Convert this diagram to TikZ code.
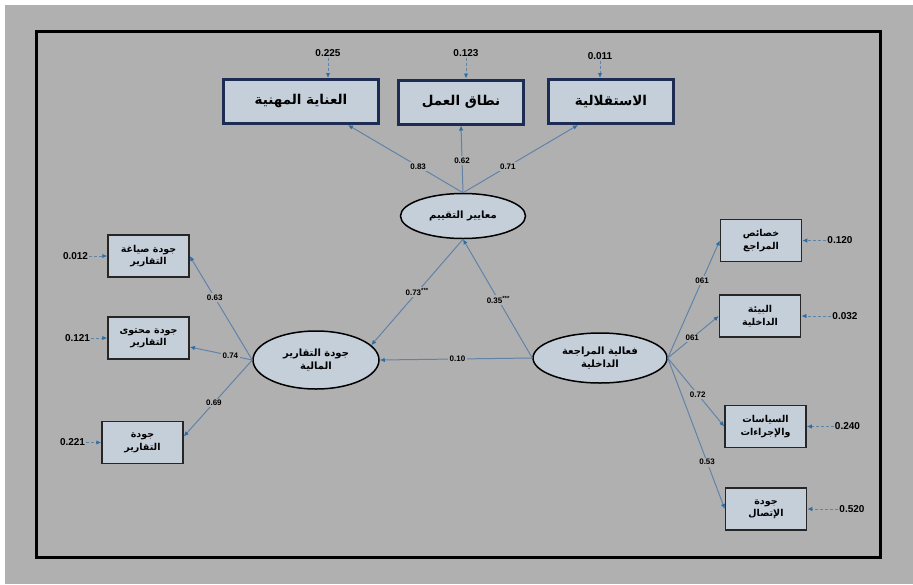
\documentclass[tikz,border=0pt]{standalone}
\usepackage{fontspec}
\setmainfont{Liberation Sans}
\newfontfamily\arabicfont[Script=Arabic]{DejaVu Sans}
\TeXXeTstate=1
\usetikzlibrary{arrows.meta, positioning, shapes.geometric}

\definecolor{bggray}{HTML}{B0B0B0}
\definecolor{boxfill}{HTML}{C5CFDA}
\definecolor{navy}{HTML}{1E2B52}
\definecolor{pathblue}{HTML}{6283A8}
\definecolor{tipblue}{HTML}{2E6CA4}

\newcommand{\ar}[1]{\beginR#1\endR}

\begin{document}
\begin{tikzpicture}[
        x=1pt, y=-1pt,
        factor/.style={rectangle, draw=navy, line width=3pt, fill=boxfill, minimum height=44pt,
            font=\arabicfont\bfseries\fontsize{13.5}{16}\selectfont},
        item/.style={rectangle, draw=black!85, line width=1.5pt, fill=boxfill, minimum width=81pt,
            minimum height=42pt, align=center, inner sep=1pt,
            font=\arabicfont\bfseries\fontsize{9.5}{12.5}\selectfont},
        latent/.style={ellipse, draw=black, line width=1.5pt, fill=boxfill, align=center, inner sep=1pt,
            font=\arabicfont\bfseries\fontsize{10}{13}\selectfont},
        resid/.style={inner sep=1pt, font=\bfseries\fontsize{10}{12}\selectfont},
        coef/.style={fill=bggray, inner sep=1.5pt, font=\bfseries\fontsize{8}{9}\selectfont},
        arrow/.style={draw=pathblue, line width=1pt, -{Latex[length=5pt, width=4.5pt, color=tipblue]}}
    ]

    \tikzset{
    errarrow/.style={arrow, densely dashed}
}

    % background and frame
    \useasboundingbox (0,0) rectangle (913,584);
    \fill[white] (0,0) rectangle (913,584);
    \fill[bggray] (5,5) rectangle (913,584);
    \draw[line width=3pt] (36,31) rectangle (880,557);

    % top factors
    \node[factor, minimum width=155pt] (care) at (301,101.5) {\ar{العناية المهنية}};
    \node[factor, minimum width=125pt] (scope) at (461,102) {\ar{نطاق العمل}};
    \node[factor, minimum width=125pt] (indep) at (611,101.5) {\ar{الاستقلالية}};

    % latent variables
    \node[latent, minimum width=125pt, minimum height=45pt] (eval) at (463,216) {\ar{معايير التقييم}};
    \node[latent, minimum width=126pt, minimum height=58pt] (frq) at (316,360) {\ar{جودة التقارير}\\\ar{المالية}};
    \node[latent, minimum width=134pt, minimum height=50pt] (iae) at (600,358) {\ar{فعالية المراجعة}\\\ar{الداخلية}};

    % indicators left
    \node[item] (L1) at (148.5,256) {\ar{جودة صياغة}\\\ar{التقارير}};
    \node[item] (L2) at (148.5,338) {\ar{جودة محتوى}\\\ar{التقارير}};
    \node[item] (L3) at (142.5,442.5) {\ar{جودة}\\\ar{التقارير}};

    % indicators right
    \node[item] (R1) at (761,240.5) {\ar{خصائص}\\\ar{المراجع}};
    \node[item] (R2) at (760,316) {\ar{البيئة}\\\ar{الداخلية}};
    \node[item] (R3) at (765.5,426.5) {\ar{السياسات}\\\ar{والإجراءات}};
    \node[item] (R4) at (766,509) {\ar{جودة}\\\ar{الإتصال}};

    % residuals
    \node[resid] (e1) at (328,53) {0.225};
    \node[resid] (e2) at (466,53) {0.123};
    \node[resid] (e3) at (600,56) {0.011};
    \node[resid, left=18pt of L1] (e4) {0.012};
    \node[resid, left=16pt of L2] (e5) {0.121};
    \node[resid, left=15pt of L3] (e6) {0.221};
    \node[resid, right=24pt of R1] (e7) {0.120};
    \node[resid, right=30pt of R2] (e8) {0.032};
    \node[resid, right=27pt of R3] (e9) {0.240};
    \node[resid, right=31pt of R4] (e10) {0.520};

    \draw[errarrow] (e1) -- (e1 |- care.north);
    \draw[errarrow] (e2) -- (e2 |- scope.north);
    \draw[errarrow] (e3) -- (e3 |- indep.north);
    \draw[errarrow] (e4) -- (L1);
    \draw[errarrow] (e5) -- (L2);
    \draw[errarrow] (e6) -- (L3);
    \draw[errarrow] (e7) -- (R1);
    \draw[errarrow] (e8) -- (R2);
    \draw[errarrow] (e9) -- (R3);
    \draw[errarrow] (e10) -- (R4);

    % loadings
    \draw[arrow] (eval.north) -- node[coef, pos=0.39] {0.83} ([xshift=47pt]care.south);
    \draw[arrow] (eval.north) -- node[coef, pos=0.48] {0.62} (scope.south);
    \draw[arrow] (eval.north) -- node[coef, pos=0.39] {0.71} ([xshift=-33pt]indep.south);

    \draw[arrow] (frq.west) -- node[coef, pos=0.6] {0.63} (L1.east);
    \draw[arrow] (frq.west) -- node[coef, pos=0.35] {0.74} ([yshift=-9pt]L2.east);
    \draw[arrow] (frq.west) -- node[coef, pos=0.56] {0.69} ([yshift=6pt]L3.east);

    \draw[arrow] (iae.east) -- node[coef, pos=0.66] {061} (R1.west);
    \draw[arrow] (iae.east) -- node[coef, pos=0.48] {061} (R2.west);
    \draw[arrow] (iae.east) -- node[coef, pos=0.53] {0.72} (R3.west);
    \draw[arrow] (iae.east) -- node[coef, pos=0.69] {0.53} (R4.west);

    % structural paths
    \draw[arrow] (eval.south) -- node[coef, pos=0.5] {0.73\textsuperscript{***}} (frq.15);
    \draw[arrow] (iae.west) -- node[coef, pos=0.49] {0.35\textsuperscript{***}} (eval.south);
    \draw[arrow] (iae.west) -- node[coef, pos=0.49] {0.10} (frq.east);
    \end{tikzpicture}
\end{document}
